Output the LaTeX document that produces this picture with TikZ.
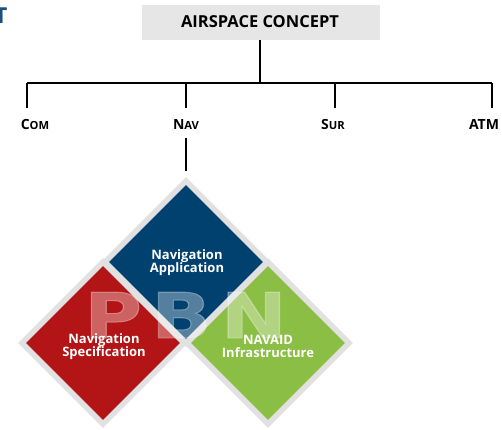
\documentclass[tikz,border=0pt]{standalone}
\usepackage{fontspec}
\setmainfont{Open Sans}
\newfontfamily\pbnfont[LetterSpace=12,FakeBold=1.5]{DejaVu Sans}
\usetikzlibrary{shapes.geometric,calc}
\definecolor{boxgray}{HTML}{E6E6E6}
\definecolor{framegray}{HTML}{E1E1E1}
\definecolor{appblue}{HTML}{00416F}
\definecolor{specred}{HTML}{B31516}
\definecolor{infgreen}{HTML}{8BBE45}
\definecolor{titleblue}{HTML}{1B4F7F}
\newcommand{\smc}{\fontsize{11.2}{13}\selectfont}
\begin{document}
\begin{tikzpicture}[x=1pt,y=-1pt,
  conn/.style={line width=1.2pt, black},
  lab/.style={font=\bfseries\fontsize{14}{16}\selectfont, inner sep=0pt, anchor=base},
  frame/.style={diamond, aspect=1, minimum width=170pt, minimum height=170pt, inner sep=0pt, fill=framegray},
  tile/.style={diamond, aspect=1, minimum width=154pt, minimum height=154pt, inner sep=0pt},
  tiletext/.style={font=\bfseries\fontsize{13}{13.5}\selectfont, text=white, align=center, inner sep=0pt}]
\useasboundingbox (0,0) rectangle (502,429);
\fill[white] (0,0) rectangle (502,429);
% title fragment
\node[font=\bfseries\fontsize{22}{22}\selectfont, text=titleblue, inner sep=0pt, anchor=base] (ttl) at (1,23) {T};
% top box
\node[fill=boxgray, minimum width=238pt, minimum height=35pt, inner sep=0pt] (concept) at (261,22.5) {};
\node[font=\bfseries\fontsize{16.5}{18}\selectfont, inner sep=0pt, anchor=base] (conceptL) at (260,27.3) {AIRSPACE CONCEPT};
% tree
\coordinate (busL) at (27,83);
\coordinate (busR) at (492,83);
\coordinate (dC) at (27,83);
\coordinate (dN) at (186,83);
\coordinate (dS) at (335,83);
\coordinate (dA) at (492,83);
\draw[conn] (concept.south -| 260,0) -- (260,83);
\draw[conn] (busL) -- (busR);
\draw[conn] (dC) -- ++(0,25);
\draw[conn] (dN) -- ++(0,25);
\draw[conn] (dS) -- ++(0,25);
\draw[conn] (dA) -- ++(0,25);
\node[lab] (com) at (35,129) {C\smc OM};
\node[lab] (nav) at (186,129) {N\smc AV};
\node[lab] (sur) at (333,129) {S\smc UR};
\node[lab] (atm) at (484,129) {ATM};
% diamonds
\node[frame] (appF) at (186,262) {};
\node[frame] (specF) at (103,343) {};
\node[frame] (infF) at (268,343) {};
\node[tile, fill=appblue] (app) at (186,262) {};
\node[tile, fill=specred] (spec) at (103,343) {};
\node[tile, fill=infgreen] (inf) at (268,343) {};
\draw[conn] ($(appF.north |- nav.south)+(0,9)$) -- ($(appF.north)+(0,-6)$);
% PBN watermark
\node[text=white, opacity=0.33, font=\pbnfont\bfseries\fontsize{63}{63}\selectfont,
      xscale=1.25, inner sep=0pt, anchor=base] (pbn) at (185.5,338) {PBN};
% tile labels
\node[tiletext] (appL) at (187,262.5) {Navigation\\Application};
\node[tiletext] (specL) at (104,346.5) {Navigation\\Specification};
\node[tiletext] (infL) at (268,346.5) {NAVAID\\Infrastructure};
\end{tikzpicture}
\end{document}
